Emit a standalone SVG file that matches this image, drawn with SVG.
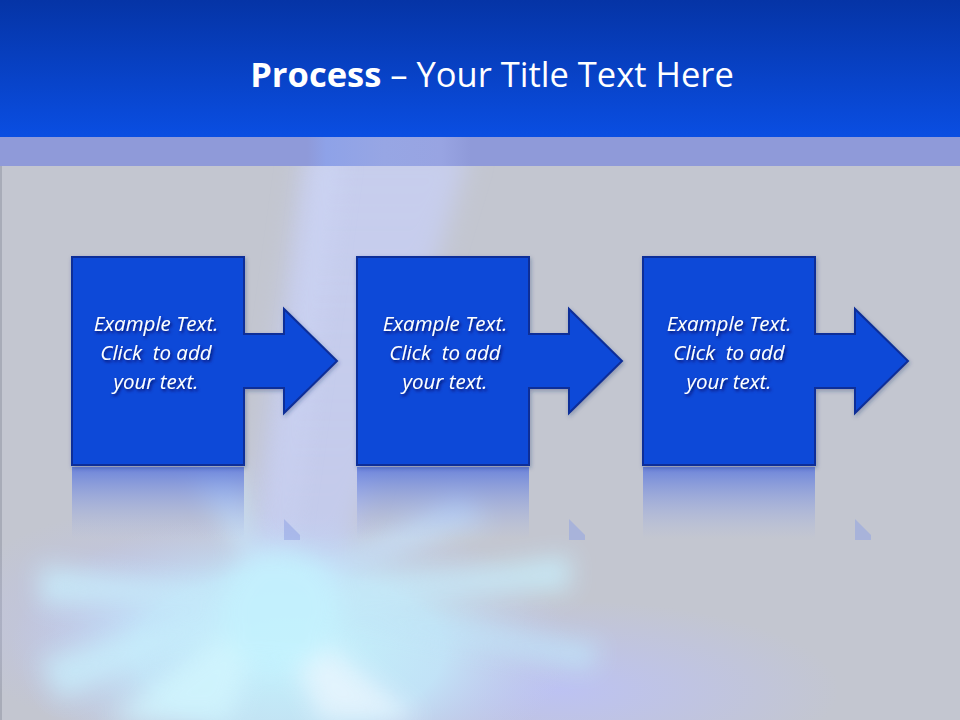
<svg xmlns="http://www.w3.org/2000/svg" width="960" height="720" viewBox="0 0 960 720">
<defs>
<style>
.node{fill:#0A48D8;stroke:#0A2E98;stroke-width:2;stroke-linejoin:miter}
.lbl{font-family:"Open Sans","Noto Sans","Liberation Sans",sans-serif;font-style:italic;font-size:20.5px;fill:#FFFFFF;text-anchor:middle;white-space:pre}
.title{font-family:"Open Sans","Noto Sans","Liberation Sans",sans-serif;font-size:34.5px;fill:#FFFFFF}
</style>
<linearGradient id="hdr" x1="0" y1="0" x2="0" y2="1">
<stop offset="0" stop-color="#0534A6"/>
<stop offset="1" stop-color="#0A4EE2"/>
</linearGradient>
<linearGradient id="refl" x1="0" y1="0" x2="0" y2="1">
<stop offset="0" stop-color="#5C78DC" stop-opacity="0.85"/>
<stop offset="1" stop-color="#9FB0EA" stop-opacity="0"/>
</linearGradient>
<radialGradient id="burst" cx="0.5" cy="0.5" r="0.5">
<stop offset="0" stop-color="#C4F4FE" stop-opacity="1"/>
<stop offset="0.55" stop-color="#C2EAFC" stop-opacity="0.8"/>
<stop offset="1" stop-color="#C2CCF2" stop-opacity="0"/>
</radialGradient>
<radialGradient id="lav" cx="0.5" cy="0.5" r="0.5">
<stop offset="0" stop-color="#BCC2F4" stop-opacity="0.95"/>
<stop offset="1" stop-color="#BCC2F4" stop-opacity="0"/>
</radialGradient>
<linearGradient id="ray" x1="0" y1="0" x2="0" y2="1">
<stop offset="0" stop-color="#C8CFF0" stop-opacity="0.9"/>
<stop offset="1" stop-color="#C4CCF6" stop-opacity="0.7"/>
</linearGradient>
<linearGradient id="band" x1="0" y1="0" x2="1" y2="0">
<stop offset="0" stop-color="#8F9AD9"/>
<stop offset="0.32" stop-color="#8F9AD9"/>
<stop offset="0.34" stop-color="#8EA2E8"/>
<stop offset="0.40" stop-color="#97A6E4"/>
<stop offset="0.46" stop-color="#98A4E2"/>
<stop offset="0.49" stop-color="#8F9AD9"/>
<stop offset="1" stop-color="#8F9AD9"/>
</linearGradient>
<filter id="blur" x="-50%" y="-50%" width="200%" height="200%"><feGaussianBlur stdDeviation="12"/></filter>
<filter id="blur2" x="-50%" y="-50%" width="200%" height="200%"><feGaussianBlur stdDeviation="12"/></filter>
<filter id="tsh" x="-20%" y="-20%" width="140%" height="160%"><feDropShadow dx="1.5" dy="2" stdDeviation="1.5" flood-color="#001050" flood-opacity="0.8"/></filter>
<filter id="nsh" x="-10%" y="-10%" width="130%" height="130%"><feDropShadow dx="1" dy="2" stdDeviation="2" flood-color="#203070" flood-opacity="0.35"/></filter>
</defs>

<!-- background -->
<rect x="0" y="0" width="960" height="720" fill="#C3C6D0"/>
<rect x="0" y="166" width="2" height="554" fill="#A8ACB8"/>
<!-- lavender glow regions -->
<ellipse cx="560" cy="690" rx="280" ry="90" fill="url(#lav)"/>
<ellipse cx="140" cy="620" rx="190" ry="110" fill="url(#lav)" opacity="0.7"/>
<!-- vertical light rays -->
<polygon points="305,150 470,150 330,610 240,610" fill="url(#ray)" filter="url(#blur2)"/>
<polygon points="318,150 340,150 278,600 268,600" fill="#D0DAFA" filter="url(#blur2)" opacity="0.5"/>
<!-- sunburst -->
<ellipse cx="290" cy="650" rx="280" ry="140" fill="url(#burst)"/>
<g filter="url(#blur)" opacity="0.8">
<polygon points="270,600 40,565 40,605" fill="#C8EEFC"/>
<polygon points="270,600 570,555 570,590" fill="#C8EEFC"/>
<polygon points="270,600 600,645 590,670" fill="#C0E6FA"/>
<polygon points="270,600 320,720 420,720" fill="#EAF6FE"/>
<polygon points="270,600 110,720 230,720" fill="#D2F6FE"/>
<polygon points="270,600 60,700 40,660" fill="#C8EEFC"/>
<polygon points="270,600 190,470 240,470" fill="#C8E4FA"/>
<polygon points="270,600 460,490 490,520" fill="#C6E0FA"/>
<circle cx="280" cy="610" r="60" fill="#C4F2FE"/>
</g>

<!-- header -->
<rect x="0" y="0" width="960" height="137" fill="url(#hdr)"/>
<rect x="0" y="137" width="960" height="29" fill="url(#band)"/>
<text class="title" x="492" y="87" text-anchor="middle"><tspan font-weight="bold">Process</tspan> – Your Title Text Here</text>

<!-- reflections -->
<g id="reflections">
<rect x="72" y="467" width="172" height="72" fill="url(#refl)"/>
<polygon points="284,519 300,535 300,540 284,540" fill="#8EA0E4" opacity="0.5"/>
<rect x="357" y="467" width="172" height="72" fill="url(#refl)"/>
<polygon points="569,519 585,535 585,540 569,540" fill="#8EA0E4" opacity="0.5"/>
<rect x="643" y="467" width="172" height="72" fill="url(#refl)"/>
<polygon points="855,519 871,535 871,540 855,540" fill="#8EA0E4" opacity="0.5"/>
</g>

<g id="connectors"></g>

<g id="step1" filter="url(#nsh)">
<path class="node" d="M72,257 H244 V334 H284 V309 L337,361 L284,413 V388 H244 V465 H72 Z"/>
<text class="lbl" filter="url(#tsh)"><tspan x="156" y="331">Example Text.</tspan><tspan x="156" y="360">Click  to add</tspan><tspan x="156" y="389">your text.</tspan></text>
</g>
<g id="step2" filter="url(#nsh)">
<path class="node" d="M357,257 H529 V334 H569 V309 L622,361 L569,413 V388 H529 V465 H357 Z"/>
<text class="lbl" filter="url(#tsh)"><tspan x="445" y="331">Example Text.</tspan><tspan x="445" y="360">Click  to add</tspan><tspan x="445" y="389">your text.</tspan></text>
</g>
<g id="step3" filter="url(#nsh)">
<path class="node" d="M643,257 H815 V334 H855 V309 L908,361 L855,413 V388 H815 V465 H643 Z"/>
<text class="lbl" filter="url(#tsh)"><tspan x="729" y="331">Example Text.</tspan><tspan x="729" y="360">Click  to add</tspan><tspan x="729" y="389">your text.</tspan></text>
</g>
</svg>
